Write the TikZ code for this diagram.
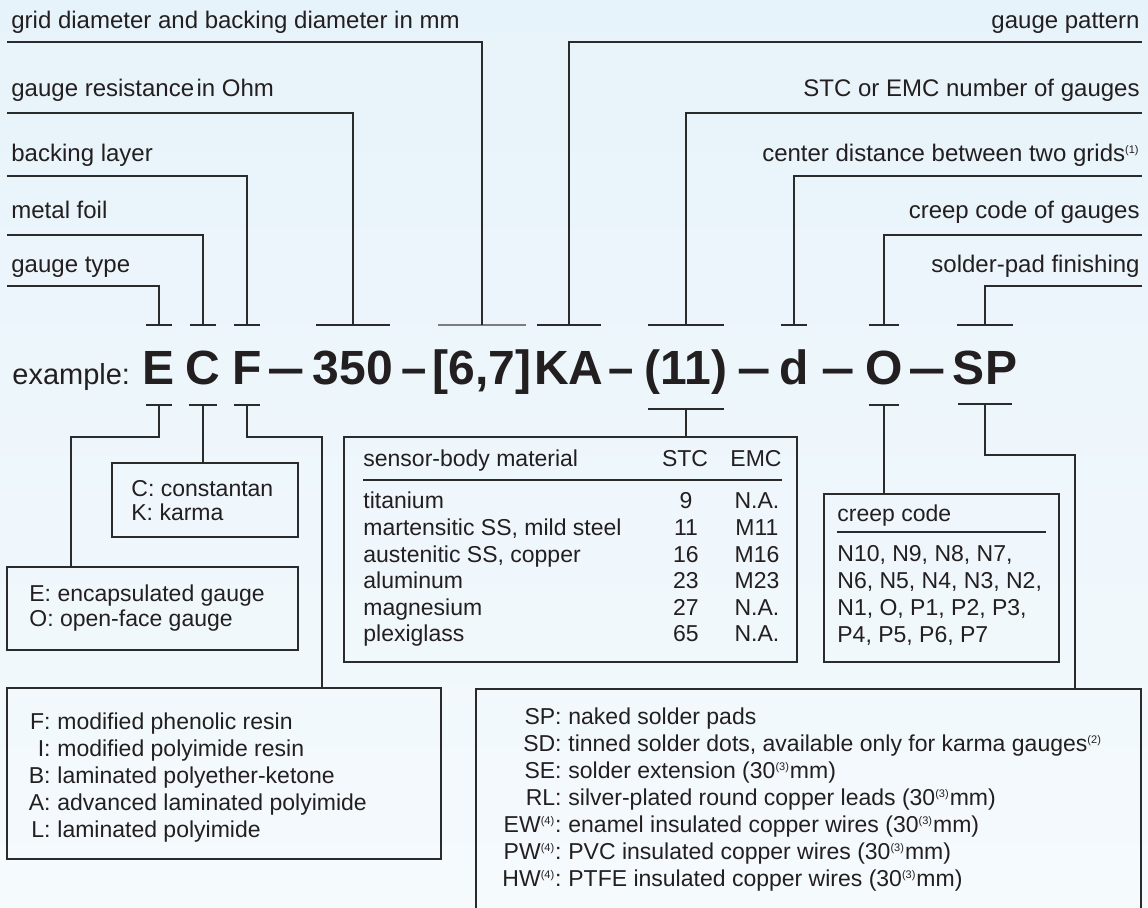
\documentclass[tikz,border=0pt]{standalone}
\usepackage{fontspec}
\setmainfont{Liberation Sans}
\usepackage{tikz}
\usepackage{graphicx}
\usetikzlibrary{
  fit,
  calc
}
\definecolor{dgInk}{HTML}{231F20}
\definecolor{dgLine}{HTML}{2B2B2B}
\definecolor{dgGrey}{HTML}{7D7D7D}
\definecolor{dgTop}{HTML}{E7F3FA}
\definecolor{dgBot}{HTML}{F5FAFD}
\newcommand\lblfont{\fontsize{12}{14}\selectfont}
\newcommand\boxfont{\fontsize{11.5}{13.5}\selectfont}
\newcommand\codefont{\fontsize{24}{28}\selectfont\bfseries}
\newcommand\supn[1]{\textsuperscript{\fontsize{5.5}{6}\selectfont(#1)}}
\tikzset{
  lbl/.style={font=\lblfont, text=dgInk, inner sep=0pt},
  txt/.style={font=\boxfont, text=dgInk, inner sep=0pt},
  code/.style={font=\codefont, text=dgInk, inner sep=0pt, anchor=base},
  lead/.style={draw=dgLine, line width=1pt},
  tbar/.style={draw=dgLine, line width=1pt},
  tbargrey/.style={draw=dgGrey, line width=1pt},
  keybox/.style={draw=dgLine, line width=1pt, rectangle, inner sep=0pt},
  rulerline/.style={draw=dgLine, line width=0.9pt}
}
\begin{document}
\begin{tikzpicture}[x=0.5pt, y=-0.5pt]
  \useasboundingbox (0,0) rectangle (1148,908);
  \clip (0,0) rectangle (1148,908);
  \shade[top color=dgTop, bottom color=dgBot] (0,0) rectangle (1148,908);

  % code line
  \node[lbl, font=\fontsize{14.5}{17}\selectfont, anchor=base west] (ex) at (12,385) {example:};
  \foreach \n/\x/\t in {E/159/E, C/203/C, F/247/F, R/353/350, D/482/{[6,7]}, K/569/KA,
                        N/686/{(11)}, G/794/d, O/884/O, S/985/SP}
    \node[code] (c\n) at (\x,385) {\t};
  \foreach \x/\s [count=\i] in {286/1.4, 414/0.95, 621/0.95, 754/1.25, 838/1.25, 927/1.4}
    \node[code] (dash\i) at (\x,385) {\scalebox{\s}[1]{–}};

  % upper T bars
  \foreach \n/\w in {E/13, C/13, F/13, R/37, K/32, N/38, G/13, O/15, S/28} {
    \coordinate (u\n) at (c\n.center |- 0,325);
    \draw[tbar] (u\n) ++(-\w,0) -- ++(2*\w,0);
  }
  \coordinate (uD) at (cD.center |- 0,325);
  \draw[tbargrey] (uD) ++(-44,0) -- ++(88,0);

  % lower T bars
  \foreach \n/\y/\w in {E/405/13, C/405/14, F/405/13, N/409/38, O/405/15, S/404/27} {
    \coordinate (lo\n) at (c\n.center |- 0,\y);
    \draw[tbar] (lo\n) ++(-\w,0) -- ++(2*\w,0);
  }

  % labels on the left
  \foreach \nm/\t/\by/\ly/\u in {grid/{grid diameter and backing diameter in mm}/29/42/D,
                                 res/{gauge resistance\hspace{0.1em}in Ohm}/97/113/R,
                                 bak/{backing layer}/162/176/F,
                                 foil/{metal foil}/219/235/C,
                                 type/{gauge type}/273/286/E} {
    \node[lbl, anchor=base west] (l\nm) at (11,\by) {\t};
    \coordinate (s\nm) at (7,\ly);
    \draw[lead] (s\nm) -| (u\u);
  }

  % labels on the right
  \foreach \nm/\t/\by/\ly/\u in {pat/{gauge pattern}/29/42/K,
                                 num/{STC or EMC number of gauges}/97/113/N,
                                 dist/{center distance between two grids\supn{1}}/162/176/G,
                                 creep/{creep code of gauges}/219/235/O,
                                 pad/{solder-pad finishing}/273/286/S} {
    \node[lbl, anchor=base east] (r\nm) at (1140,\by) {\t};
    \coordinate (e\nm) at (1142,\ly);
    \draw[lead] (e\nm) -| (u\u);
  }

  % key boxes
  \node[keybox, fit={(112,463) (298,537)}] (boxC) {};
  \node[keybox, fit={(7,567) (298,650)}] (boxE) {};
  \node[keybox, fit={(344,437) (797,662)}] (tbl) {};
  \node[keybox, fit={(824,494) (1059,662)}] (creep) {};
  \node[keybox, fit={(7,688) (441,859)}] (boxF) {};
  \node[keybox, fit={(476,689) (1141,940)}] (fin) {};

  \coordinate (kE) at (71,437);
  \coordinate (kF) at (322,437);
  \coordinate (kS) at (1075,455);
  \draw[lead] (loE) |- (kE) -- (kE |- boxE.north);
  \draw[lead] (loC) -- (loC |- boxC.north);
  \draw[lead] (loF) |- (kF) -- (kF |- boxF.north);
  \draw[lead] (loN) -- (loN |- tbl.north);
  \draw[lead] (loO) -- (loO |- creep.north);
  \draw[lead] (loS) |- (kS) -- (kS |- fin.north);

  % metal foil / gauge type
  \node[txt, anchor=base west] (tC1) at (131,497) {C: constantan};
  \node[txt, anchor=base west] (tC2) at (131,521) {K: karma};
  \node[txt, anchor=base west] (tE1) at (29,602) {E: encapsulated gauge};
  \node[txt, anchor=base west] (tE2) at (29,627) {O: open-face gauge};

  % sensor-body table
  \node[txt, anchor=base west] (hMat) at (363,467) {sensor-body material};
  \node[txt, anchor=base] (hStc) at (685,467) {STC};
  \node[txt, anchor=base] (hEmc) at (756,467) {EMC};
  \draw[rulerline] (hMat.west |- 0,480) -- (hEmc.east |- 0,480);
  \foreach \m/\s/\e [count=\i from 0] in {titanium/9/N.A., {martensitic SS, mild steel}/11/M11,
                                          {austenitic SS, copper}/16/M16, aluminum/23/M23,
                                          magnesium/27/N.A., plexiglass/65/N.A.} {
    \node[txt, anchor=base west] (m\i) at (363,509+26.6*\i) {\m};
    \node[txt, anchor=base] (s\i) at (686,509+26.6*\i) {\s};
    \node[txt, anchor=base] (e\i) at (757,509+26.6*\i) {\e};
  }

  % creep codes
  \node[txt, anchor=base west] (hCreep) at (837,522) {creep code};
  \draw[rulerline] (hCreep.west |- 0,532) -- (1046,532);
  \foreach \l [count=\i from 0] in {{N10, N9, N8, N7,}, {N6, N5, N4, N3, N2,},
                                    {N1, O, P1, P2, P3,}, {P4, P5, P6, P7}}
    \node[txt, anchor=base west] (cc\i) at (837,562+26.7*\i) {\l};

  % backing layers
  \foreach \k/\d [count=\i from 0] in {F/modified phenolic resin, I/modified polyimide resin,
                                       B/laminated polyether-ketone, A/advanced laminated polyimide,
                                       L/laminated polyimide} {
    \node[txt, anchor=base east] (fk\i) at (51,730+27*\i) {\k:};
    \node[txt, anchor=base west] (fd\i) at (57,730+27*\i) {\d};
  }

  % solder-pad finishing
  \foreach \k/\d [count=\i from 0] in {SP/naked solder pads,
                                       SD/{tinned solder dots, available only for karma gauges\supn{2}},
                                       SE/solder extension (30\supn{3}mm),
                                       RL/silver-plated round copper leads (30\supn{3}mm),
                                       EW\supn{4}/enamel insulated copper wires (30\supn{3}mm),
                                       PW\supn{4}/PVC insulated copper wires (30\supn{3}mm),
                                       HW\supn{4}/PTFE insulated copper wires (30\supn{3}mm)} {
    \node[txt, anchor=base east] (pk\i) at (562,725+27*\i) {\k:};
    \node[txt, anchor=base west] (pd\i) at (568,725+27*\i) {\d};
  }
\end{tikzpicture}
\end{document}
